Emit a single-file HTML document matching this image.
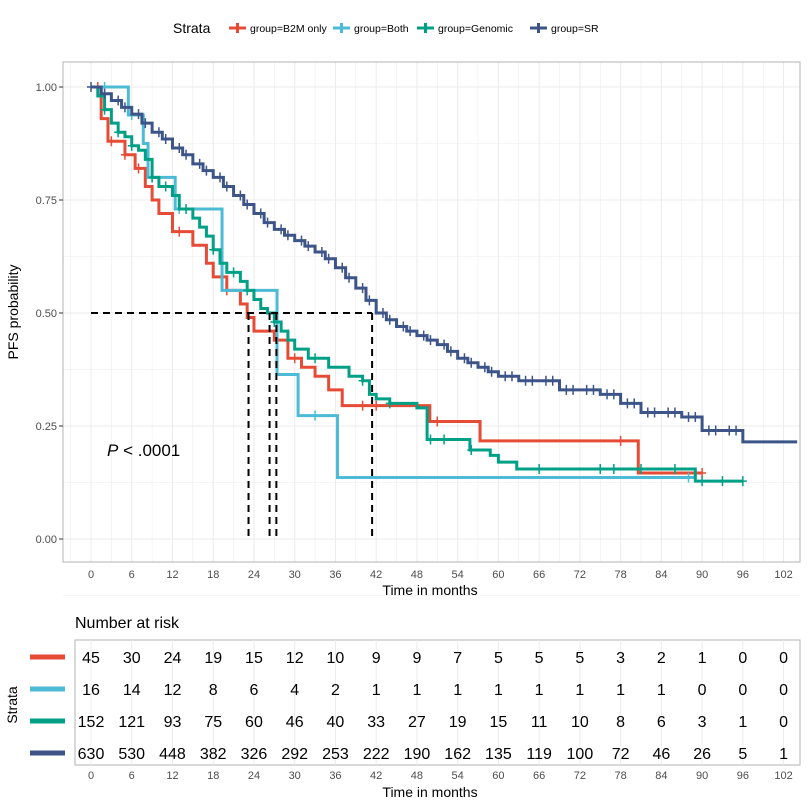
<!DOCTYPE html>
<html><head><meta charset="utf-8"><style>
body{margin:0;background:#fff;font-family:"Liberation Sans",sans-serif}
svg{display:block}
</style></head><body>
<svg id="c" width="809" height="809" xmlns="http://www.w3.org/2000/svg"></svg>
<script>
const groups=["group=B2M only","group=Both","group=Genomic","group=SR"];
const colors=["#E64B35","#4DBBD5","#00A087","#3C5488"];
const b2mT=[0,1.5,2.5,5,6.5,8,9,10,12,15,17,18,20,22,23,24,27,29,31,33,35,37,49.9,57.3,80.6,90];
const b2mS=[1,.93,.88,.85,.82,.78,.75,.72,.68,.65,.61,.58,.55,.52,.49,.46,.44,.40,.38,.36,.33,.295,.26,.217,.146,.146];
const bothT=[0,5.5,7.7,8.4,12.4,19.3,27.4,30.5,36.3,89];
const bothS=[1,.938,.875,.80,.73,.55,.364,.273,.136,.136];
const genT=[0,1,2,3,4,5,6,7,8,9,10,12,13,15,16,17,18,19,20,22,23,24,25,26,27,28,29,30,32,35,38,40,41,42,44,48,49.5,55.8,58.8,60,62.7,89,96];
const genS=[1,.98,.95,.92,.90,.89,.87,.86,.84,.80,.78,.76,.73,.71,.69,.67,.64,.61,.59,.57,.55,.53,.51,.50,.48,.46,.44,.42,.40,.38,.36,.35,.32,.31,.30,.29,.22,.197,.185,.17,.155,.128,.128];
const srT=[0,1.5,3,4.5,6,7.5,9,10.5,12,13.5,15,16.5,18,19.5,21,22.5,24,25.5,27,28.5,30,31.5,33,34.5,36,37.5,39,40.5,42,43.5,45,46.5,48,49.5,51,52.5,54,55.5,57,58.5,60,63,66,69,72,75,78,81,84,87,90,93,96,104];
const srS=[1,.985,.97,.955,.94,.92,.90,.885,.865,.85,.83,.815,.80,.78,.76,.74,.72,.70,.685,.672,.66,.648,.635,.62,.60,.578,.555,.528,.50,.485,.47,.46,.45,.44,.43,.415,.40,.39,.38,.37,.36,.35,.35,.33,.33,.32,.30,.28,.28,.27,.24,.24,.215,.215];
const series=[[b2mT,b2mS],[bothT,bothS],[genT,genS],[srT,srS]];
const censB2M=[1,3,5,7,13,20,30,40,42,51,78,90];
const censBoth=[2,6,9,13,33,88];
const censGen=[2,4,6,9,11,14,18,21,23,27,33,40,44,50,52,56,66,75,77,81,86,90,93,96];
const censSR=[0,2,4,5,7,8,10,11,13,14,16,17,19,20,22,23,25,26,28,29,31,32,34,35,37,38,40,41,43,44,46,47,49,50,52,53,55,56,58,59,61,62,64,65,67,68,70,71,73,74,76,77,79,80,82,83,85,86,88,89,91,92,94,95];
const cens=[censB2M,censBoth,censGen,censSR];
const medians=[23.2,26.3,27.3,41.4];
const xTicks=[0,6,12,18,24,30,36,42,48,54,60,66,72,78,84,90,96,102];
const yTicks=[0,.25,.5,.75,1];
const yLabels=["0.00","0.25","0.50","0.75","1.00"];
const risk=[[45,30,24,19,15,12,10,9,9,7,5,5,5,3,2,1,0,0],[16,14,12,8,6,4,2,1,1,1,1,1,1,1,1,0,0,0],[152,121,93,75,60,46,40,33,27,19,15,11,10,8,6,3,1,0],[630,530,448,382,326,292,253,222,190,162,135,119,100,72,46,26,5,1]];
const X=t=>91+t*6.79, Y=s=>539-s*452;
const L=63,R=800,T=62,B=562;
const svg=document.getElementById('c');const NS="http://www.w3.org/2000/svg";
function el(tag,at,txt){const e=document.createElementNS(NS,tag);for(const k in at)e.setAttribute(k,at[k]);if(txt!==undefined)e.textContent=txt;svg.appendChild(e);return e;}
for(let t=-3;t<=105;t+=3){if(X(t)<L||X(t)>R)continue;const g=el('line',{x1:X(t),x2:X(t),y1:T,y2:B,stroke:'#ebebeb','stroke-width':t%6===0?1:0.5});

}
for(let s=-0.125;s<=1.1;s+=0.125){const g=el('line',{x1:L,x2:R,y1:Y(s),y2:Y(s),stroke:'#ebebeb','stroke-width':Math.abs(s*4-Math.round(s*4))<1e-6?1:0.5});

}
const pb=el('rect',{x:L,y:T,width:R-L,height:B-T,fill:'none',stroke:'#b3b3b3'});


series.forEach(([ts,ss],i)=>{let d=`M${X(ts[0])},${Y(ss[0])}`;for(let k=1;k<ts.length;k++){d+=`H${X(ts[k])}V${Y(ss[k])}`;}
const p=el('path',{d,fill:'none',stroke:colors[i],'stroke-width':3});


cens[i].forEach(c=>{if(c>ts[ts.length-1])return;let k=0;while(k+1<ts.length&&ts[k+1]<=c)k++;const x=X(c),y=Y(ss[k]);
const m=el('path',{d:`M${x-4},${y}H${x+4}M${x},${y-5}V${y+5}`,stroke:colors[i],'stroke-width':1.5});

});});
const mh=el('line',{x1:X(0),x2:X(medians[3]),y1:Y(.5),y2:Y(.5),stroke:'#000','stroke-width':2,'stroke-dasharray':'7,5'});


medians.forEach(m=>{const v=el('line',{x1:X(m),x2:X(m),y1:Y(.5),y2:Y(0),stroke:'#000','stroke-width':2,'stroke-dasharray':'7,5'});

});
yTicks.forEach((s,i)=>{const t=el('text',{x:57,y:Y(s)+4,'text-anchor':'end','font-size':11,fill:'#4d4d4d'},yLabels[i]);


const tk=el('line',{x1:59,x2:63,y1:Y(s),y2:Y(s),stroke:'#333'});

});
xTicks.forEach(v=>{const t=el('text',{x:X(v),y:578,'text-anchor':'middle','font-size':11,fill:'#4d4d4d'},v);


const t2=el('text',{x:X(v),y:779,'text-anchor':'middle','font-size':11,fill:'#4d4d4d'},v);

});
const xt=el('text',{x:430,y:595,'text-anchor':'middle','font-size':14},'Time in months');


const yt=el('text',{x:0,y:0,'text-anchor':'middle','font-size':14,transform:'translate(18,312) rotate(-90)'},'PFS probability');


const pv=el('text',{x:107,y:456,'font-size':17},'');pv.innerHTML='<tspan font-style="italic">P</tspan> &lt; .0001';


const lt=el('text',{x:173,y:33,'font-size':14},'Strata');


const lx=[229,333,417,530];
groups.forEach((g,i)=>{const l=el('path',{d:`M${lx[i]},28H${lx[i]+17}M${lx[i]+8.5},23V33`,stroke:colors[i],'stroke-width':3});


const t=el('text',{x:lx[i]+21,y:32,'font-size':10.5},g);

});
const rt=el('text',{x:75,y:628,'font-size':16},'Number at risk');


const rb=el('rect',{x:75,y:640,width:725,height:125,fill:'none',stroke:'#b3b3b3'});


xTicks.forEach(v=>{const g=el('line',{x1:X(v),x2:X(v),y1:640,y2:765,stroke:'#ebebeb'});

});
const ry=[657,689,721,753];
risk.forEach((row,i)=>{const k=el('line',{x1:30,x2:65,y1:ry[i],y2:ry[i],stroke:colors[i],'stroke-width':5});


row.forEach((n,j)=>{const t=el('text',{x:X(xTicks[j]),y:ry[i]+6,'text-anchor':'middle','font-size':16},n);

});});
const st=el('text',{x:0,y:0,'text-anchor':'middle','font-size':14,transform:'translate(17,705) rotate(-90)'},'Strata');


const rx=el('text',{x:430,y:797,'text-anchor':'middle','font-size':14},'Time in months');


</script>
</body></html>
